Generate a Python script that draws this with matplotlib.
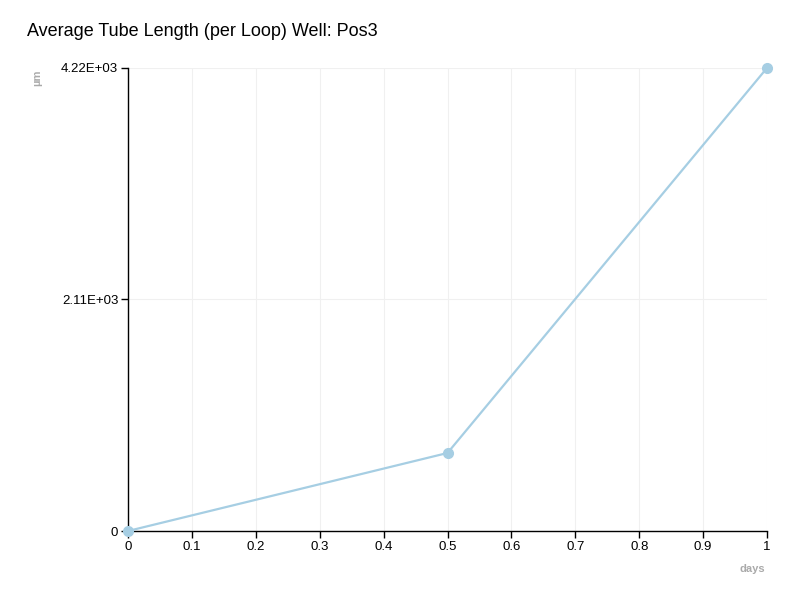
import matplotlib
matplotlib.use("Agg")
import matplotlib.pyplot as plt

plt.rcParams['font.family'] = ['Liberation Sans', 'DejaVu Sans']

days = [0, 0.5, 1]
length_um = [0, 711, 4220]
y_ticks = [0, 2110, 4220]
y_tick_labels = ['0', '2.11E+03', '4.22E+03']
x_ticks = [0, 0.1, 0.2, 0.3, 0.4, 0.5, 0.6, 0.7, 0.8, 0.9, 1]
x_tick_labels = ['0', '0.1', '0.2', '0.3', '0.4', '0.5', '0.6', '0.7', '0.8', '0.9', '1']

fig = plt.figure(figsize=(8, 6), dpi=100)
ax = fig.add_axes([0.16, 0.115, 0.79875, 0.7717])

ax.plot(days, length_um, color='#a6cee3', linewidth=1.6, marker='o', markersize=7,
        clip_on=False, zorder=3)

ax.set_xlim(0, 1)
ax.set_ylim(0, 4220)
ax.set_xticks(x_ticks)
ax.set_xticklabels(x_tick_labels)
ax.set_yticks(y_ticks)
ax.set_yticklabels(y_tick_labels)
ax.tick_params(axis='both', labelsize=9.5, length=5, width=1, color='black', pad=2)

ax.grid(True, color='#f0f0f0', linewidth=0.8)
ax.set_axisbelow(True)
for s in ['top', 'right']:
    ax.spines[s].set_visible(False)
for s in ['left', 'bottom']:
    ax.spines[s].set_color('black')
    ax.spines[s].set_linewidth(1)

fig.text(0.034, 0.962, 'Average Tube Length (per Loop) Well: Pos3', fontsize=13,
         ha='left', va='top', color='black')
fig.text(0.047, 0.885, 'µm', fontsize=8, fontweight='bold', color='#aaaaaa',
         rotation=90, ha='center', va='top')
fig.text(0.957, 0.052, 'days', fontsize=8, fontweight='bold', color='#aaaaaa',
         ha='right', va='center')

fig.savefig('out.png', dpi=100)
